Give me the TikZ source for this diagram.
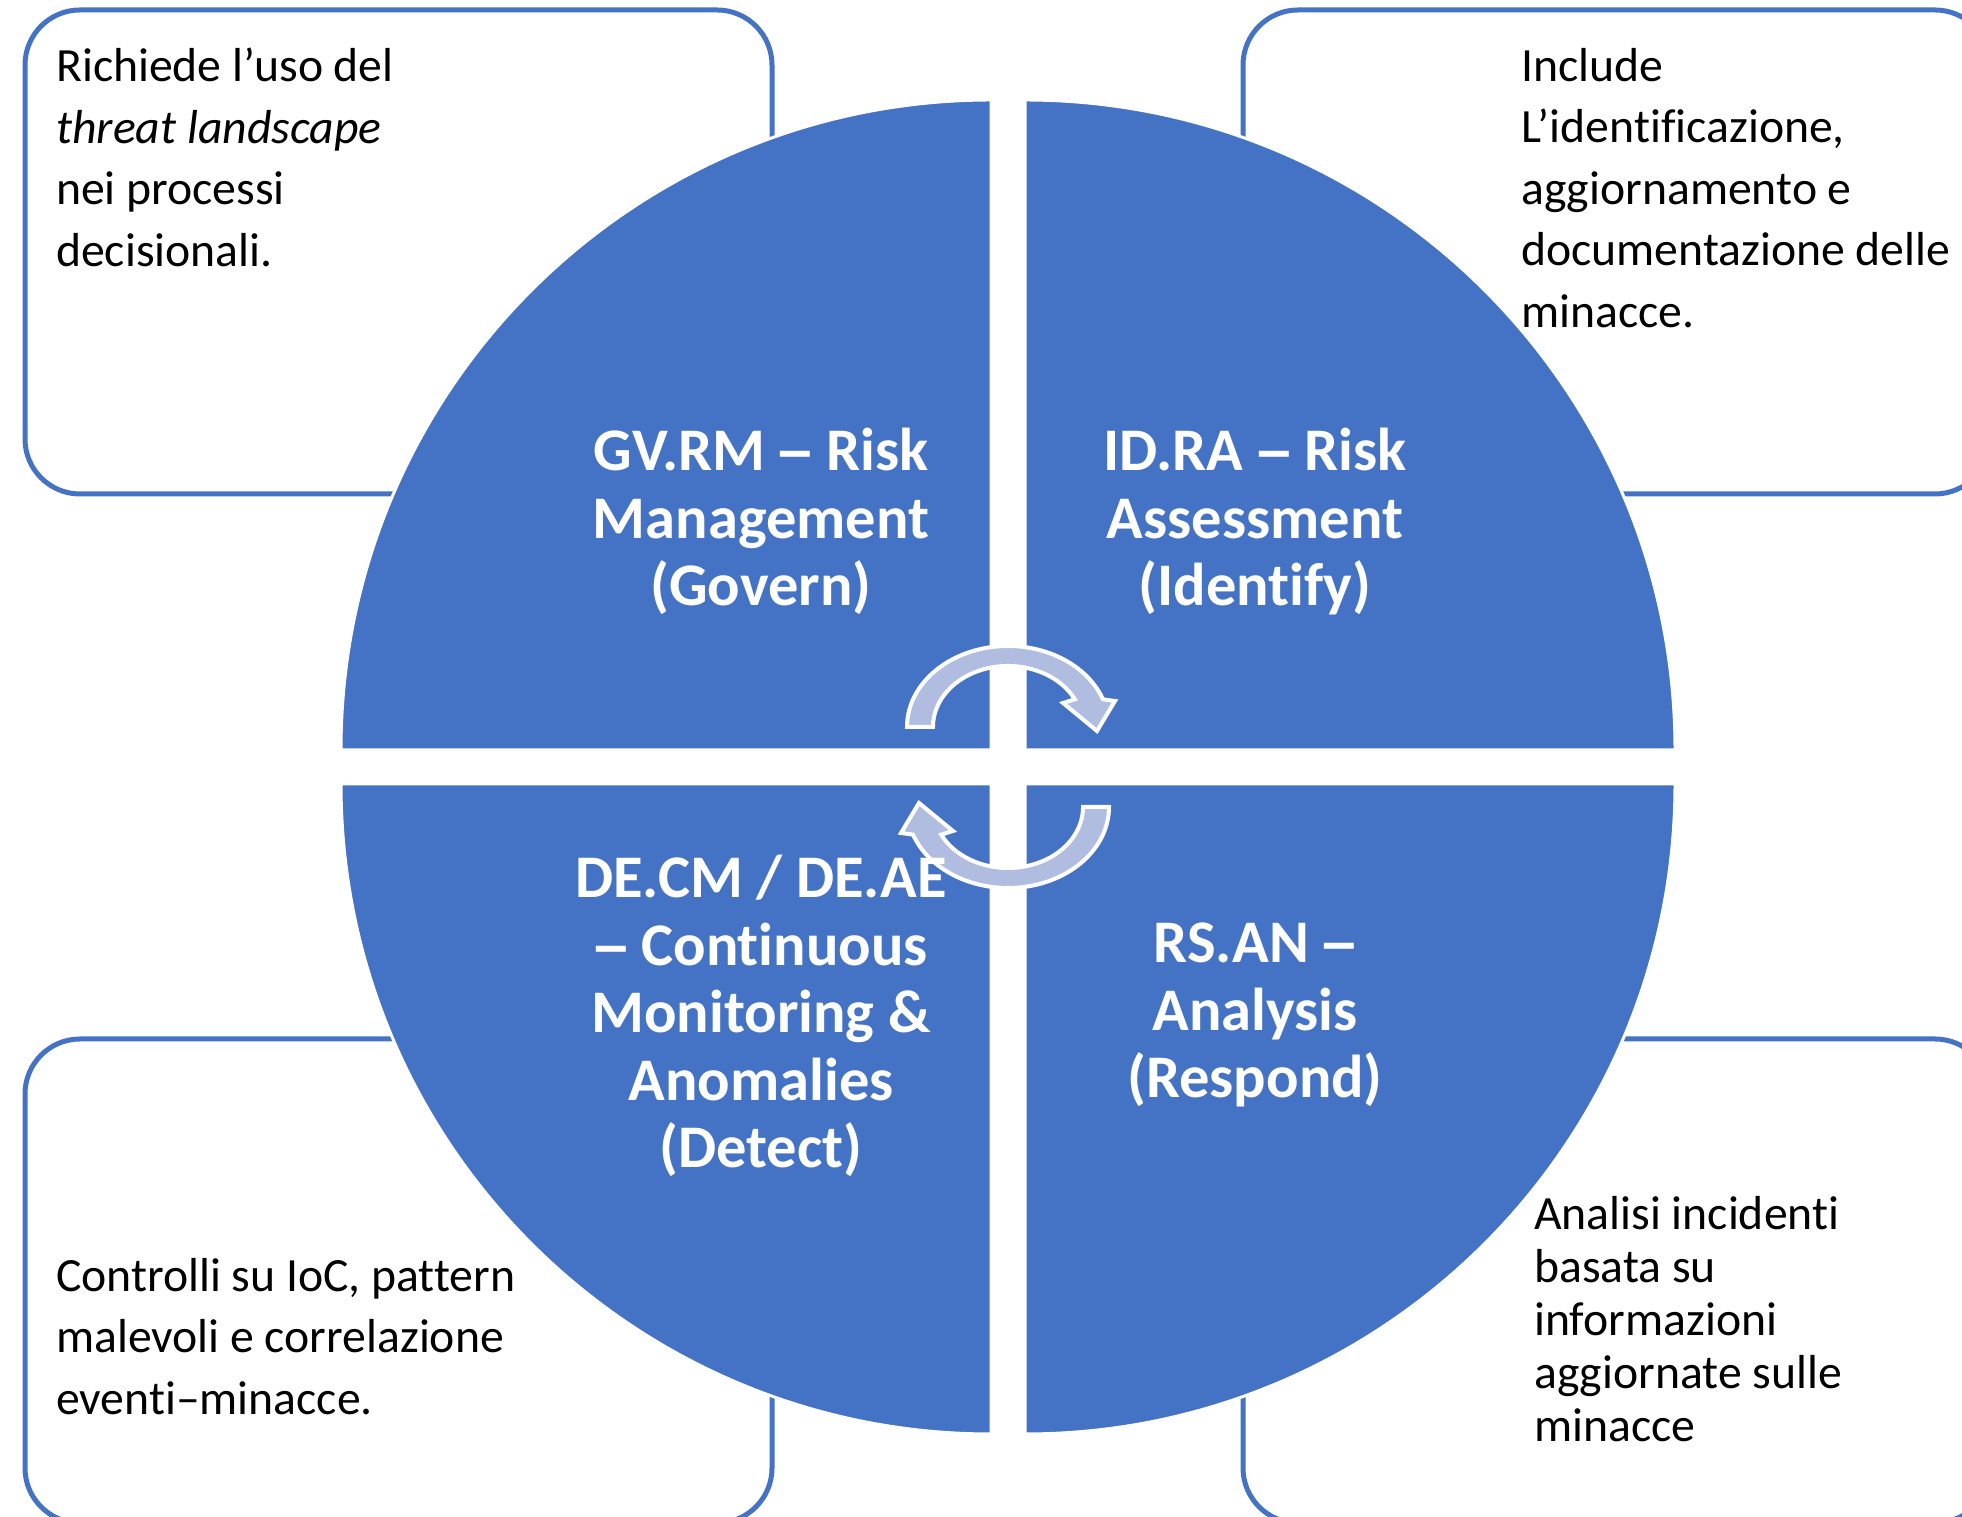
\documentclass[tikz,border=0pt]{standalone}
\usepackage{fontspec}
\setmainfont{Carlito}[Ligatures={NoCommon}]
\newfontfamily\dashfont{Liberation Sans}
\usetikzlibrary{calc,positioning}
\definecolor{tblue}{RGB}{68,114,196}
\definecolor{cyclefill}{RGB}{176,189,224}
\newcommand{\phdash}{{\dashfont –}}

\begin{document}
\begin{tikzpicture}[x=1pt,y=1pt,
  infobox/.style={draw=tblue,line width=5pt,rounded corners=55pt,
    minimum width=747pt,minimum height=484pt,inner sep=0pt,outer sep=0pt},
  quarter/.style={fill=tblue,draw=white,line width=3pt},
  cyclearrow/.style={fill=cyclefill,draw=white,line width=4pt},
  note/.style={align=left,inner sep=0pt,font=\fontsize{47.7}{61.5}\selectfont},
  phase/.style={align=center,inner sep=0pt,text=white,
    font=\fontsize{60.5}{67.5}\selectfont\bfseries}]
 \useasboundingbox (0,0) rectangle (1962,1517);
 \clip (0,0) rectangle (1962,1517);
 % boxes behind the wheel
 \node[infobox] (GVbox) at (398.5,1265) {};
 \node[infobox] (IDbox) at (1616.5,1265) {};
 \node[infobox] (DEbox) at (398.5,236) {};
 \node[infobox] (RSbox) at (1616.5,236) {};
 % the wheel
 \coordinate (c) at (1008,750);
 \foreach \sx/\sy/\a in {-17/17/90,17/17/0,-17/-17/180,17/-17/270}
  \filldraw[quarter] ($(c)+(\sx,\sy)$) -- ++(\a:650)
    arc[start angle=\a,delta angle=90,radius=650] -- cycle;
 % cycle arrows
 \foreach \r in {0,180}
  \filldraw[cyclearrow,shift={(c)},rotate=\r] (-101,40)
    arc[start angle=180,end angle=20,x radius=101,y radius=81]
    -- (107,66) -- (89,36) -- (55,64) -- (66.8,67.7)
    arc[start angle=27,end angle=180,x radius=75,y radius=61] -- cycle;
 \node[phase,anchor=north] (GV) at (761,1089) {GV.RM \phdash{} Risk\\Management\\(Govern)};
 \node[phase,anchor=north] (ID) at (1255,1089) {ID.RA \phdash{} Risk\\Assessment\\(Identify)};
 \node[phase,anchor=north] (DE) at (761,662) {DE.CM / DE.AE\\\phdash{} Continuous\\Monitoring \&\\Anomalies\\(Detect)};
 \node[phase,anchor=north] (RS) at (1255,594) {RS.AN \phdash\\Analysis\\(Respond)};
 % notes
 \node[note,below right=38pt and 31pt of GVbox.north west] (GVnote)
  {Richiede l’uso del\\\textit{threat landscape}\\nei processi\\decisionali.};
 \node[note,below right=38pt and 278pt of IDbox.north west] (IDnote)
  {Include\\L’identificazione,\\aggiornamento e\\documentazione delle\\minacce.};
 \node[note,below right=219pt and 31pt of DEbox.north west] (DEnote)
  {Controlli su IoC, pattern\\malevoli e correlazione\\eventi–minacce.};
 \node[note,below right=157pt and 291pt of RSbox.north west,
   font=\fontsize{47.7}{53}\selectfont] (RSnote)
  {Analisi incidenti\\basata su\\informazioni\\aggiornate sulle\\minacce};
\end{tikzpicture}
\end{document}
